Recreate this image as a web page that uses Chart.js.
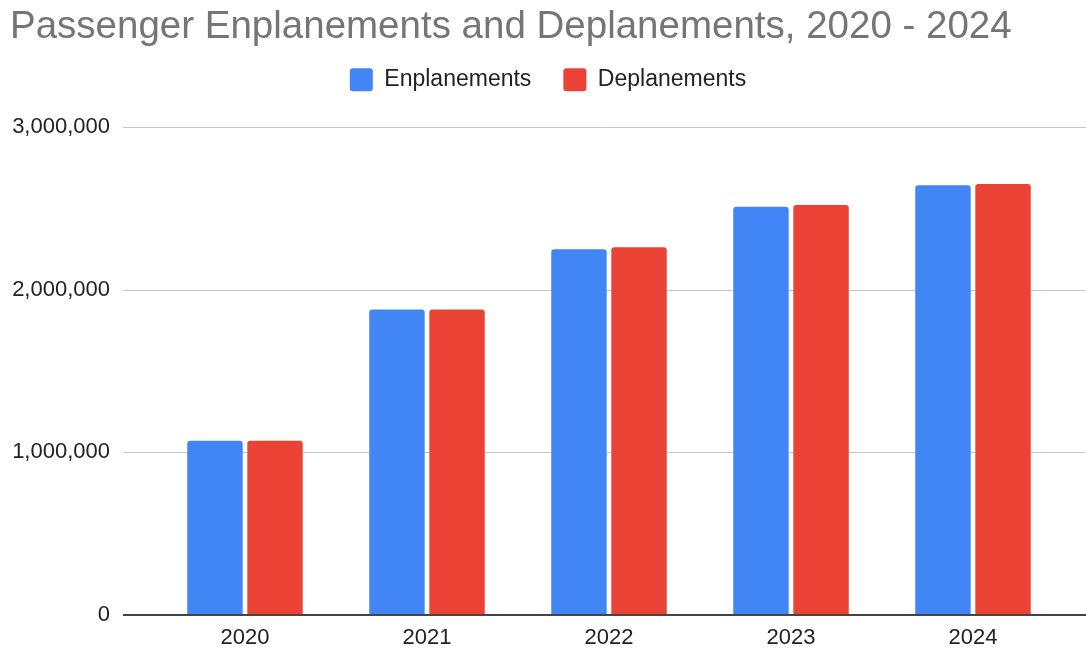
<!DOCTYPE html>
<html>
<head>
<meta charset="utf-8">
<title>Passenger Enplanements and Deplanements</title>
<script src="https://cdn.jsdelivr.net/npm/chart.js@4.4.0/dist/chart.umd.min.js"></script>
<style>
  html, body { margin: 0; padding: 0; background: #fff; }
  canvas { display: block; }
</style>
</head>
<body>
<canvas id="chart" width="1086" height="652"></canvas>
<script>
// passenger counts per year
const years = ['2020', '2021', '2022', '2023', '2024'];
const enplanements = [1072000, 1879000, 2249000, 2510000, 2643000];
const deplanements = [1072000, 1879000, 2262000, 2522000, 2651000];
const yTicks = [0, 1000000, 2000000, 3000000];

const font = "'Liberation Sans', Arial, sans-serif";

// horizontal grid lines run wider than the bar area, zero line on top of bars
const gridLines = {
  id: 'gridLines',
  beforeDatasetsDraw(chart) {
    const ctx = chart.ctx;
    const y = chart.scales.y;
    ctx.save();
    ctx.strokeStyle = '#c6c6c6';
    ctx.lineWidth = 1;
    yTicks.forEach(function(v) {
      if (v === 0) return;
      const py = Math.round(y.getPixelForValue(v)) + 0.5;
      ctx.beginPath();
      ctx.moveTo(123, py);
      ctx.lineTo(chart.width, py);
      ctx.stroke();
    });
    ctx.restore();
  },
  afterDatasetsDraw(chart) {
    const ctx = chart.ctx;
    const py = chart.scales.y.getPixelForValue(0);
    ctx.save();
    ctx.strokeStyle = '#444';
    ctx.lineWidth = 2;
    ctx.beginPath();
    ctx.moveTo(123, py);
    ctx.lineTo(chart.width, py);
    ctx.stroke();
    ctx.restore();
  }
};

// extra room between the legend and the plot
const legendGap = {
  id: 'legendGap',
  beforeInit(chart) {
    const fit = chart.legend.fit;
    chart.legend.fit = function() {
      fit.bind(chart.legend)();
      this.height += 26;
    };
  }
};

const ctx = document.getElementById('chart');
const myChart = new Chart(ctx, {
  type: 'bar',
  plugins: [gridLines, legendGap],
  data: {
    labels: years,
    datasets: [{
      label: 'Enplanements',
      data: enplanements,
      backgroundColor: '#4285f4',
      borderRadius: 3,
      categoryPercentage: 0.66,
      barPercentage: 0.923
    }, {
      label: 'Deplanements',
      data: deplanements,
      backgroundColor: '#ea4335',
      borderRadius: 3,
      categoryPercentage: 0.66,
      barPercentage: 0.923
    }]
  },
  options: {
    responsive: false,
    animation: false,
    layout: {
      padding: { left: 10, right: 0, top: 0, bottom: 0 }
    },
    plugins: {
      title: {
        display: true,
        text: 'Passenger Enplanements and Deplanements, 2020 - 2024',
        align: 'start',
        color: '#757575',
        font: { family: font, size: 38.5, weight: 'normal' },
        padding: { top: 4, bottom: -14 }
      },
      legend: {
        position: 'top',
        labels: {
          color: '#222',
          font: { family: font, size: 23 },
          boxWidth: 23,
          boxHeight: 23,
          useBorderRadius: true,
          borderRadius: 3,
          padding: 32
        }
      },
      tooltip: { enabled: false }
    },
    scales: {
      x: {
        grid: { display: false },
        border: { display: false },
        ticks: {
          color: '#222',
          font: { family: font, size: 22 },
          padding: 2
        },
        afterFit(scale) {
          scale.height = 37;
          scale.paddingLeft = 0;
          scale.paddingRight = 22;
        }
      },
      y: {
        min: 0,
        max: 3000000,
        grid: { display: false },
        border: { display: false },
        afterBuildTicks(scale) {
          scale.ticks = yTicks.map(function(v) { return { value: v }; });
        },
        ticks: {
          color: '#222',
          font: { family: font, size: 22 },
          padding: 36,
          callback: function(v) { return v.toLocaleString('en-US'); }
        },
        afterFit(scale) {
          scale.width = 144;
          scale.paddingTop = 0;
          scale.paddingBottom = 0;
        }
      }
    }
  }
});
</script>
</body>
</html>
